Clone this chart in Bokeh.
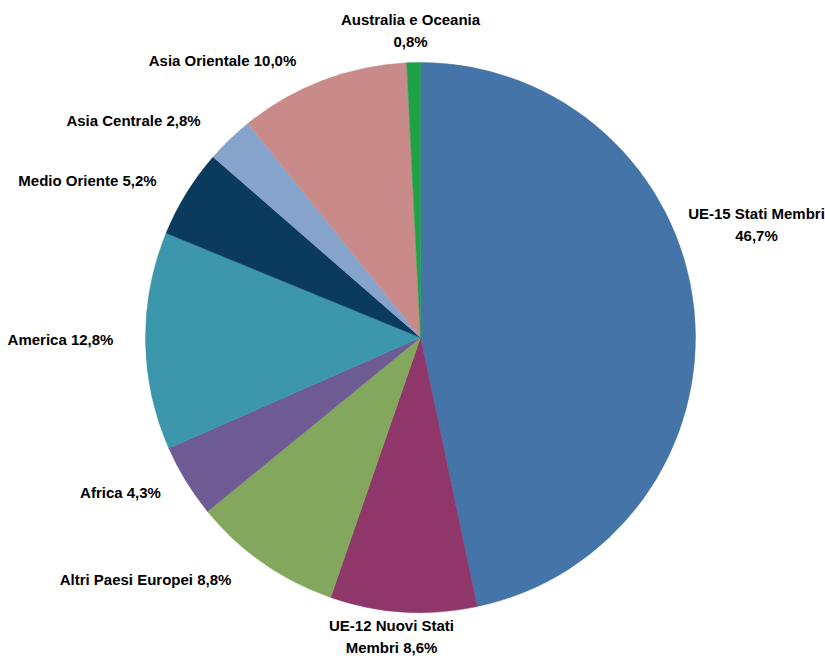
import math
from bokeh.plotting import figure
from bokeh.models import ColumnDataSource, Range1d
from bokeh.embed import file_html
from bokeh.resources import INLINE
from bokeh.core.properties import value

# ---- data ----
regions = ["UE-15 Stati Membri", "UE-12 Nuovi Stati Membri", "Altri Paesi Europei",
           "Africa", "America", "Medio Oriente", "Asia Centrale", "Asia Orientale",
           "Australia e Oceania"]
shares = [46.7, 8.6, 8.8, 4.3, 12.8, 5.2, 2.8, 10.0, 0.8]
label_texts = ["UE-15 Stati Membri\n46,7%", "UE-12 Nuovi Stati\nMembri 8,6%",
               "Altri Paesi Europei 8,8%", "Africa 4,3%", "America 12,8%",
               "Medio Oriente 5,2%", "Asia Centrale 2,8%", "Asia Orientale 10,0%",
               "Australia e Oceania\n0,8%"]
colors = ["#4575A8", "#8F376A", "#83A75C", "#6E5B93", "#3C97AC", "#0B3A5F",
          "#86A3CC", "#C88B89", "#1FA247"]

# ---- layout (page pixel coordinates) ----
W, H = 825, 658
cx, cy, R = 420, 337, 275
label_pos = [(756, 224), (391, 636), (145, 579), (120, 492), (60, 339),
             (87, 180), (133, 120), (222, 60), (410, 30)]

def Y(sy):
    return H - sy

total = sum(shares)
starts, ends = [], []
cum = 0.0
for s in shares:
    starts.append(math.pi / 2 - 2 * math.pi * cum / total)
    cum += s
    ends.append(math.pi / 2 - 2 * math.pi * cum / total)

src = ColumnDataSource(dict(x=[cx] * len(shares), y=[Y(cy)] * len(shares),
                            start=starts, end=ends, color=colors, region=regions))

p = figure(width=W, height=H, output_backend="svg", toolbar_location=None,
           x_range=Range1d(0, W), y_range=Range1d(0, H),
           x_axis_location=None, y_axis_location=None, min_border=0)
p.grid.visible = False
p.outline_line_color = None
p.background_fill_color = "white"
p.border_fill_color = "white"

p.wedge(x="x", y="y", radius=R, start_angle="start", end_angle="end",
        direction="clock", fill_color="color", line_color="color", line_width=0.5,
        source=src)

lsrc = ColumnDataSource(dict(x=[a for a, b in label_pos], y=[Y(b) for a, b in label_pos],
                             text=label_texts))
p.text(x="x", y="y", text="text", source=lsrc, text_align="center",
       text_baseline="middle", text_font=value("Liberation Sans"),
       text_font_style="bold", text_font_size="15px", text_color="#000000",
       text_line_height=1.3)

open("out.html", "w").write(file_html(p, INLINE))
